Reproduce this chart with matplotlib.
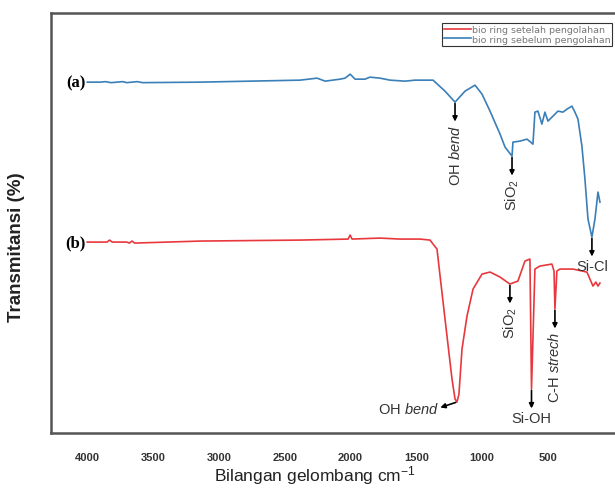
import numpy as np
import matplotlib.pyplot as plt

plt.rcParams['font.family'] = ['Liberation Sans', 'DejaVu Sans']
plt.rcParams['mathtext.fontset'] = 'custom'
plt.rcParams['mathtext.rm'] = 'Liberation Sans'
plt.rcParams['mathtext.it'] = 'Liberation Sans:italic'

# (a) bio ring sebelum pengolahan
wn_a = [4000, 3900, 3860, 3820, 3730, 3700, 3620, 3580, 3142, 2763, 2383, 2254, 2193,
        2079, 2041, 2003, 1965, 1890, 1852, 1776, 1700, 1586, 1510, 1373, 1282, 1206,
        1130, 1054, 1001, 940, 864, 826, 773, 766, 713, 659, 614, 599, 576, 546, 523,
        500, 462, 424, 386, 356, 318, 295, 272, 242, 219, 196, 166, 143, 120, 105]
tr_a = [351, 351, 351.5, 350.5, 351.5, 350.5, 351.5, 350.5, 351, 352, 353, 355, 352,
        354, 355, 359, 354, 354, 356, 355, 353, 352, 353, 353, 342, 331,
        342, 348, 339, 322, 299, 286, 277, 291, 292, 294, 289, 321, 322, 309, 321,
        312, 317, 322, 321, 324, 327, 321, 314, 287, 254, 214, 196, 214, 241, 231]

# (b) bio ring setelah pengolahan
wn_b = [4000, 3850, 3830, 3810, 3700, 3680, 3660, 3640, 3142, 2383, 2018, 2003, 1988,
        1776, 1624, 1472, 1396, 1373, 1343, 1282, 1229, 1206, 1191, 1176, 1153, 1115,
        1069, 1001, 940, 864, 789, 728, 675, 637, 625, 599, 561, 470, 454, 447, 432,
        409, 310, 204, 158, 136, 120, 105]
tr_b = [191, 191, 193, 191, 191, 190, 192, 190, 192, 193, 194, 198, 194,
        195, 194, 194, 193, 189, 184, 114, 54, 34, 31, 39, 84, 117,
        144, 159, 161, 156, 149, 152, 172, 174, 44, 164, 167, 169, 162, 124, 162,
        164, 164, 161, 147, 151, 147, 150]

# annotations: (wavenumber, label, style)
notes_a = [(1206, 'OH $\\mathit{bend}$', 'rot'), (773, 'SiO$_2$', 'rot'),
           (166, 'Si-Cl', 'flat')]
notes_b = [(1191, 'OH $\\mathit{bend}$', 'left'), (789, 'SiO$_2$', 'rot'),
           (625, 'Si-OH', 'flat'), (447, 'C-H $\\mathit{strech}$', 'rot')]

ticks = [4000, 3500, 3000, 2500, 2000, 1500, 1000, 500]

blue = '#3a7fb8'
red = '#e8383d'

fig = plt.figure(figsize=(6.15, 4.89), dpi=100)
ax = fig.add_axes([0.083, 0.1125, 0.915, 0.8585])

ax.plot(wn_b, tr_b, color=red, lw=1.2, label='bio ring setelah pengolahan')
ax.plot(wn_a, tr_a, color=blue, lw=1.2, label='bio ring sebelum pengolahan')

ax.set_xlim(4275, 0)
ax.set_ylim(0, 420)

for wn, tr, notes in [(wn_a, tr_a, notes_a), (wn_b, tr_b, notes_b)]:
    x = np.array(wn[::-1], dtype=float)
    y = np.array(tr[::-1], dtype=float)
    for w, lab, kind in notes:
        t = np.interp(w, x, y)
        if kind == 'left':
            ax.annotate('', xy=(w, t), xytext=(-12, -4), textcoords='offset points',
                        arrowprops=dict(arrowstyle='<|-', color='black', lw=1.2,
                                        mutation_scale=7, shrinkA=0, shrinkB=1))
            ax.annotate(lab, xy=(w, t), xytext=(-13, -5), textcoords='offset points',
                        ha='right', va='center', fontsize=10.5, color='#333333')
        else:
            ax.annotate('', xy=(w, t), xytext=(0, -14), textcoords='offset points',
                        arrowprops=dict(arrowstyle='<|-', color='black', lw=1.2,
                                        mutation_scale=7, shrinkA=0, shrinkB=1))
            ax.annotate(lab, xy=(w, t), xytext=(0, -16), textcoords='offset points',
                        ha='center', va='top', fontsize=10.5, color='#333333',
                        rotation=90 if kind == 'rot' else 0)

ax.annotate('(a)', xy=(wn_a[0], tr_a[0]), xytext=(-1, 0), textcoords='offset points',
            ha='right', va='center', fontsize=12, fontweight='bold',
            family='Liberation Serif')
ax.annotate('(b)', xy=(wn_b[0], tr_b[0]), xytext=(-1, 0), textcoords='offset points',
            ha='right', va='center', fontsize=12, fontweight='bold',
            family='Liberation Serif')

ax.set_xticks(ticks)
ax.set_xticklabels([str(t) for t in ticks])
ax.tick_params(axis='x', length=0, pad=14, labelsize=8, labelcolor='#333333')
for lab in ax.get_xticklabels():
    lab.set_fontweight('bold')
ax.set_yticks([])

for side in ['left', 'top', 'bottom']:
    ax.spines[side].set_color('#555555')
    ax.spines[side].set_linewidth(1.8)
ax.spines['right'].set_visible(False)

ax.set_xlabel('Bilangan gelombang cm$^{-1}$', fontsize=12.5, color='#222222',
              va='baseline')
ax.xaxis.set_label_coords(0.469, -0.112)
ax.set_ylabel('Transmitansi (%)', fontsize=13.5, fontweight='bold', color='#222222')
ax.yaxis.set_label_coords(-0.046, 0.445)

leg = ax.legend(loc='upper right', bbox_to_anchor=(0.997, 0.976), borderaxespad=0,
                prop={'family': 'DejaVu Sans', 'size': 6.8}, handlelength=2.8,
                fancybox=False, framealpha=1, borderpad=0.2, labelspacing=0.05,
                handletextpad=0.1, labelcolor='#777777')
leg.get_frame().set_edgecolor('#333333')
leg.get_frame().set_linewidth(0.8)

fig.savefig('out.png', dpi=100)
